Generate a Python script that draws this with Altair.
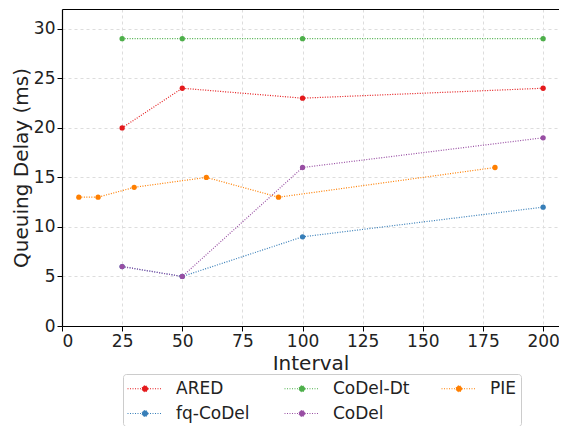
import altair as alt
import pandas as pd

series_names = ["ARED", "fq-CoDel", "CoDel-Dt", "CoDel", "PIE"]
colors = ["#e41a1c", "#377eb8", "#4daf4a", "#984ea3", "#ff7f00"]

ared_x = [25, 50, 100, 200]
ared_y = [20, 24, 23, 24]
fq_x = [25, 50, 100, 200]
fq_y = [6, 5, 9, 12]
dt_x = [25, 50, 100, 200]
dt_y = [29, 29, 29, 29]
codel_x = [25, 50, 100, 200]
codel_y = [6, 5, 16, 19]
pie_x = [7, 15, 30, 60, 90, 180]
pie_y = [13, 13, 14, 15, 13, 16]

rows = []
for name, xs, ys in [("ARED", ared_x, ared_y), ("fq-CoDel", fq_x, fq_y),
                     ("CoDel-Dt", dt_x, dt_y), ("CoDel", codel_x, codel_y),
                     ("PIE", pie_x, pie_y)]:
    for i, (x, y) in enumerate(zip(xs, ys)):
        rows.append({"series": name, "x": x, "y": y, "i": i})
df = pd.DataFrame(rows)

# legend glyph: dotted line with a dot in the middle (scaled by sqrt(size)/2)
sym = "M -1 0 L 2.5 0 M 1.05 0 A 0.3 0.3 0 1 1 0.45 0 A 0.3 0.3 0 1 1 1.05 0 Z"

color_scale = alt.Scale(domain=series_names, range=colors)
color = alt.Color(
    "series:N",
    scale=color_scale,
    sort=series_names,
    legend=alt.Legend(
        title=None, orient="none", legendX=61, legendY=365, columns=3,
        symbolType=sym, symbolSize=400, symbolStrokeWidth=1,
        symbolDash=[1, 1.5], gridAlign="all",
        labelFontSize=17, labelFont="DejaVu Sans", labelColor="#222",
        columnPadding=29, rowPadding=6, labelOffset=28,
        strokeColor="#ccc", fillColor="white", padding=4, cornerRadius=3,
        symbolOpacity=1,
    ),
)

axis_common = dict(titleFontSize=20, labelFontSize=17, titleFontWeight="normal",
                   gridDash=[3, 3], gridColor="#ddd",
                   domainColor="black", domainWidth=1.2, tickColor="black",
                   labelColor="#222",
                   titleColor="#222", labelFont="DejaVu Sans", titleFont="DejaVu Sans")

XMAX = 206.6
x = alt.X("x:Q", scale=alt.Scale(domain=[0, XMAX], nice=False),
          axis=alt.Axis(values=list(range(0, 201, 25)), title="Interval",
                        titlePadding=4, **axis_common))
x_top = alt.X("x:Q", scale=alt.Scale(domain=[0, XMAX], nice=False),
              axis=alt.Axis(orient="top", labels=False, ticks=False, grid=False,
                            title=None, domainColor="black", domainWidth=1.2))
y = alt.Y("y:Q", scale=alt.Scale(domain=[0, 32], nice=False),
          axis=alt.Axis(values=list(range(0, 31, 5)), title="Queuing Delay (ms)",
                        titlePadding=2, **axis_common))

base = alt.Chart(df)
lines = base.mark_line(strokeWidth=1.2, strokeDash=[1, 1.5]).encode(
    x=x, y=y, color=color, detail="series:N", order="i:Q")
points = base.mark_circle(size=28, opacity=1).encode(
    x=x_top, y=y,
    color=alt.Color("series:N", scale=color_scale, legend=None))

chart = alt.layer(lines, points).resolve_axis(x="independent").properties(
    width=497, height=317,
    autosize=alt.AutoSizeParams(type="none"),
    padding={"left": 54, "top": 1, "right": 0, "bottom": 100},
).configure_view(stroke=None)

chart.save("out.html", embed_options={"renderer": "svg", "actions": False})
